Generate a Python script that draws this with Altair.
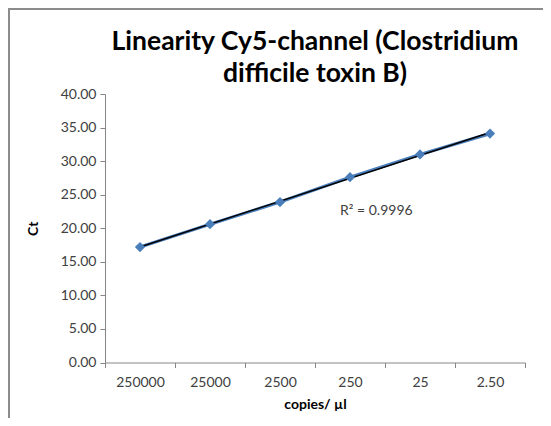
import altair as alt
import pandas as pd

labels = ["250000", "25000", "2500", "250", "25", "2.50"]
ct = [17.2, 20.6, 23.9, 27.6, 31.0, 34.1]
r2_text = "R² = 0.9996"
title_lines = ["Linearity Cy5-channel (Clostridium", "difficile toxin B)"]

df = pd.DataFrame({"cat": labels, "idx": list(range(len(labels))), "ct": ct})

FONT = "Lato"
AX = "#868686"
LAB = "#404040"

xenc = alt.X(
    "cat:O",
    sort=labels,
    scale=alt.Scale(paddingInner=0, paddingOuter=0),
    axis=alt.Axis(
        title="copies/ µl",
        labelAngle=0,
        tickBand="extent",
        tickSize=5,
        labelPadding=8,
        titlePadding=8,
    ),
)
yenc = alt.Y(
    "ct:Q",
    scale=alt.Scale(domain=[0, 40], nice=False),
    axis=alt.Axis(
        title="Ct",
        values=[0, 5, 10, 15, 20, 25, 30, 35, 40],
        format=".2f",
        grid=False,
        tickSize=5,
        labelPadding=4,
        labelOverlap=False,
        titlePadding=20,
    ),
)

base = alt.Chart(df)

series_line = base.mark_line(color="#4A7EBB", strokeWidth=3.2).encode(x=xenc, y=yenc)
points = base.mark_point(shape="diamond", filled=True, size=105, color="#4A7EBB", opacity=1).encode(x=xenc, y=yenc)

trend = (
    base.transform_regression("idx", "ct")
    .transform_calculate(cat="['250000','25000','2500','250','25','2.50'][datum.idx]")
    .mark_line(color="#000000", strokeWidth=1.5)
    .encode(x=xenc, y=yenc)
)

ann = (
    alt.Chart(pd.DataFrame({"cat": ["250"], "ct": [22.6], "t": [r2_text]}))
    .mark_text(align="left", baseline="middle", dx=-10, fontSize=14, font=FONT, color=LAB)
    .encode(x=xenc, y=yenc, text="t:N")
)

one = alt.Data(values=[{"a": 1}])
title1 = alt.Chart(one).mark_text(
    fontSize=26.5, font=FONT, fontWeight="bold", color="#000000", align="center", baseline="middle"
).encode(x=alt.value(210), y=alt.value(-52), text=alt.value(title_lines[0]))
title2 = alt.Chart(one).mark_text(
    fontSize=26.5, font=FONT, fontWeight="bold", color="#000000", align="center", baseline="middle"
).encode(x=alt.value(210), y=alt.value(-20), text=alt.value(title_lines[1]))

top_border = alt.Chart(one).mark_rule(color="#8c8c8c", strokeWidth=2).encode(
    x=alt.value(-97), x2=alt.value(600), y=alt.value(-85)
)
left_border = alt.Chart(one).mark_rule(color="#8c8c8c", strokeWidth=2).encode(
    x=alt.value(-96), y=alt.value(-86), y2=alt.value(400)
)

chart = (
    alt.layer(top_border, left_border, series_line, trend, points, ann, title1, title2)
    .properties(
        width=420,
        height=268.5,
        background="white",
        autosize=alt.AutoSizeParams(type="none"),
        padding={"left": 97, "top": 86, "right": 18, "bottom": 55},
    )
    .configure_view(stroke=None)
    .configure_axis(
        domainColor=AX,
        tickColor=AX,
        labelColor=LAB,
        labelFont=FONT,
        labelFontSize=14,
        titleFont=FONT,
        titleFontSize=14,
        titleFontWeight="bold",
        titleColor="#000000",
    )
)

chart.save("out.html", embed_options={"renderer": "svg", "actions": False})
